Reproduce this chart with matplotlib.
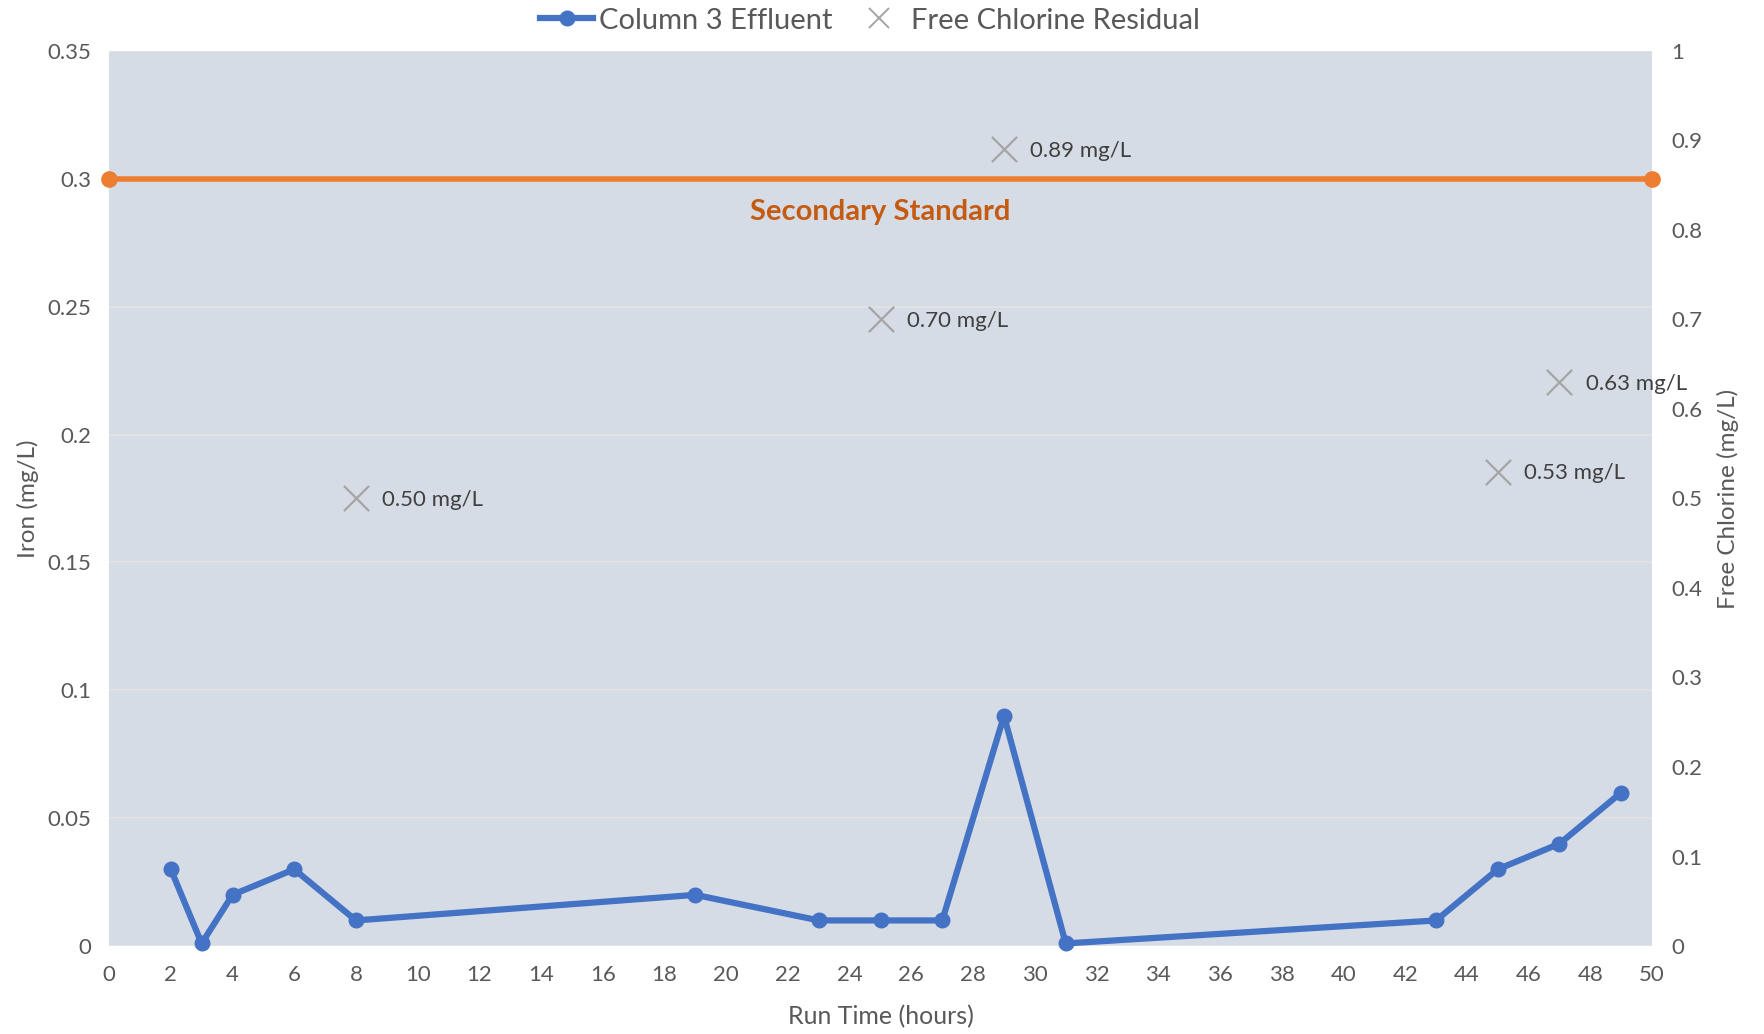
import matplotlib
matplotlib.use("Agg")
from matplotlib import pyplot as plt
from matplotlib.lines import Line2D

plt.rcParams['font.family'] = ['Lato', 'DejaVu Sans']

# Column 3 effluent iron
run_hours = [2, 3, 4, 6, 8, 19, 23, 25, 27, 29, 31, 43, 45, 47, 49]
iron = [0.03, 0.001, 0.02, 0.03, 0.01, 0.02, 0.01, 0.01, 0.01, 0.09,
        0.001, 0.01, 0.03, 0.04, 0.06]

# Free chlorine residual grab samples
cl_hours = [8, 25, 29, 45, 47]
chlorine = [0.50, 0.70, 0.89, 0.53, 0.63]

# Secondary standard for iron
std_hours = [0, 50]
std_iron = [0.3, 0.3]

x_ticks = list(range(0, 51, 2))
iron_ticks = [0, 0.05, 0.1, 0.15, 0.2, 0.25, 0.3, 0.35]
iron_labels = ['0', '0.05', '0.1', '0.15', '0.2', '0.25', '0.3', '0.35']
cl_ticks = [i / 10 for i in range(11)]
cl_labels = ['0'] + ['0.%d' % i for i in range(1, 10)] + ['1']

BLUE = '#4472C4'
ORANGE = '#ED7D31'
DARK_ORANGE = '#C55A11'
GRAY = '#A5A5A5'
TEXT = '#595959'
BG = '#D6DCE5'

fig = plt.figure(figsize=(17.65, 10.34), dpi=100)
ax = fig.add_axes([0.0618, 0.0851, 0.8742, 0.8656])
ax.set_facecolor(BG)
ax2 = ax.twinx()
ax2.patch.set_visible(False)

ax.set_xlim(0, 50)
ax.set_ylim(0, 0.35)
ax2.set_ylim(0, 1)

ax.set_xticks(x_ticks)
ax.set_yticks(iron_ticks)
ax.set_yticklabels(iron_labels)
ax2.set_yticks(cl_ticks)
ax2.set_yticklabels(cl_labels)

for a in (ax, ax2):
    for s in a.spines.values():
        s.set_visible(False)
    a.tick_params(length=0, labelsize=16, labelcolor=TEXT)
ax.tick_params(axis='x', pad=14)
ax.tick_params(axis='y', pad=13)
ax2.tick_params(axis='y', pad=14)

ax.grid(True, axis='y', color='#E3E3E3', linewidth=1.2)
ax.set_axisbelow(True)

ax.plot(std_hours, std_iron, color=ORANGE, linewidth=4, marker='o',
        markersize=11, clip_on=False, zorder=3)
ax.annotate('Secondary Standard', xy=(25, 0.3), xytext=(0, -24),
            textcoords='offset points', ha='center', va='center',
            fontsize=21, fontweight='bold', color=DARK_ORANGE)

ax.plot(run_hours, iron, color=BLUE, linewidth=4.5, marker='o',
        markersize=10.5, clip_on=False, zorder=4)

ax2.scatter(cl_hours, chlorine, marker='x', s=330, color=GRAY,
            linewidths=1.6, zorder=4)
for h, c in zip(cl_hours, chlorine):
    ax2.annotate('%.2f mg/L' % c, xy=(h, c), xytext=(19, -1),
                 textcoords='offset points', ha='left', va='center',
                 fontsize=16, color='#404040')

ax.set_xlabel('Run Time (hours)', fontsize=18, color=TEXT, labelpad=14)
ax.set_ylabel('Iron (mg/L)', fontsize=17.5, color=TEXT, labelpad=6)
ax2.set_ylabel('Free Chlorine (mg/L)', fontsize=17.5, color=TEXT, labelpad=10)

handles = [
    Line2D([], [], color=BLUE, linewidth=4.5, marker='o', markersize=10.5),
    Line2D([], [], color=GRAY, linestyle='none', marker='x',
           markersize=15, markeredgewidth=1.4),
]
fig.legend(handles, ['Column 3 Effluent', 'Free Chlorine Residual'],
           loc='center', bbox_to_anchor=(0.493, 0.98), ncol=2,
           frameon=False, fontsize=21, labelcolor=TEXT, handlelength=1.8,
           handletextpad=0.2, columnspacing=0.7)

fig.savefig('out.png', dpi=100)
